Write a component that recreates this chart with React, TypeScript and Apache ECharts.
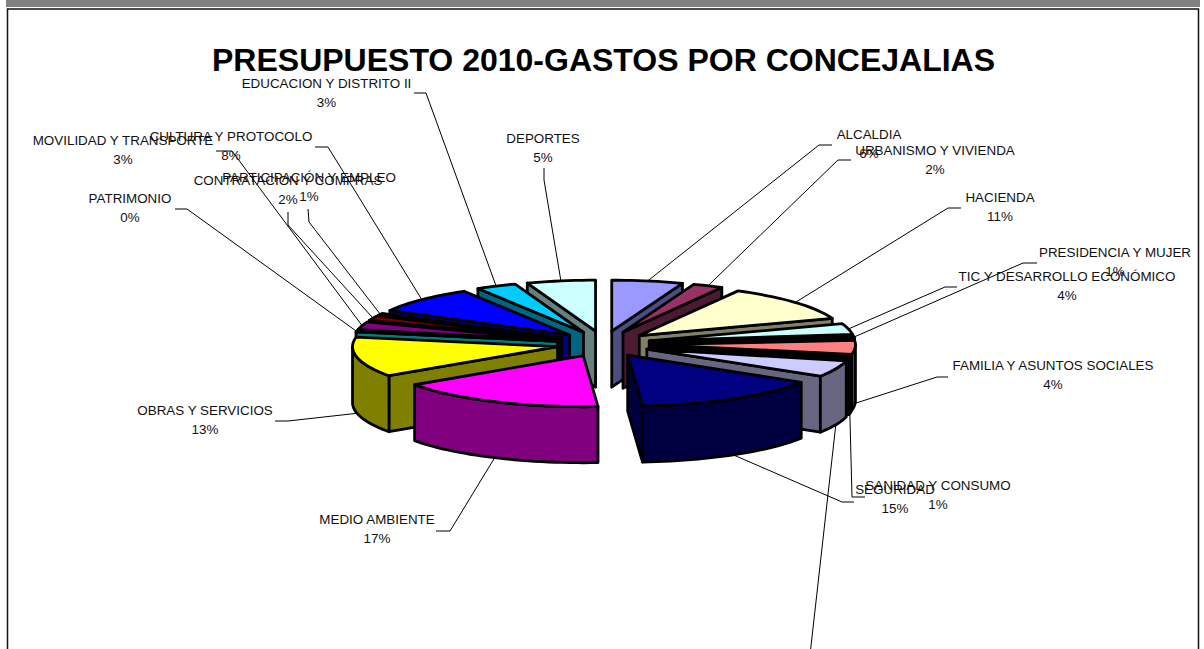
import React, { useEffect, useRef } from "react";
import * as echarts from "echarts";

// ---- data (clockwise from 12 o'clock) ----
const titleText = "PRESUPUESTO 2010-GASTOS POR CONCEJALIAS";
const categories = [
  "ALCALDIA", "URBANISMO Y VIVIENDA", "HACIENDA", "TIC Y DESARROLLO ECONÓMICO", "PRESIDENCIA Y MUJER",
  "FAMILIA Y ASUNTOS SOCIALES", "SANIDAD Y CONSUMO", "", "SEGURIDAD", "MEDIO AMBIENTE", "OBRAS Y SERVICIOS",
  "PATRIMONIO", "MOVILIDAD Y TRANSPORTE", "CONTRATACION Y COMPRAS", "PARTICIPACIÓN Y EMPLEO",
  "CULTURA Y PROTOCOLO", "EDUCACION Y DISTRITO II", "DEPORTES",
];
const values = [5.6, 2.4, 11.5, 3.4, 0.7, 4.4, 0.7, 5.2, 14.9, 16.5, 12.6, 0.4, 2.5, 1.5, 0.6, 8.4, 3.2, 5.4];
const percentLabels = ["6%", "2%", "11%", "4%", "1%", "4%", "1%", "", "15%", "17%", "13%", "0%", "3%", "2%", "1%", "8%", "3%", "5%"];

// ---- styles ----
const topColors = [
  "#9999FF", "#993366", "#FFFFCC", "#CCFFFF", "#660066", "#FF8080", "#0066CC", "#CCCCFF", "#000080",
  "#FF00FF", "#FFFF00", "#00FFFF", "#800080", "#800000", "#008080", "#0000FF", "#00CCFF", "#CCFFFF",
];

// ---- layout ----
const CX = 603.5, CY = 344, RX = 205, RY = 51, DEPTH = 56, EX = 47, EY = 13, EDGE = 2.8;
// label centre x, first-line centre y, then the leader's fixed points (label end first)
const labelLayout: [number, number, number[][]][] = [
  [869, 134, [[832, 145], [819, 145]]],
  [935, 150, [[851, 160], [838, 160]]],
  [1000, 197, [[961, 208], [948, 208]]],
  [1067, 276, [[957, 287], [945, 287]]],
  [1115, 252, [[1037, 263], [1023, 263]]],
  [1053, 365, [[948, 377], [937, 377]]],
  [938, 485, [[865, 497], [852, 497]]],
  [0, 0, [[810, 655]]],
  [895, 489, [[854, 502], [842, 502]]],
  [377, 519, [[436, 531], [450, 531]]],
  [205, 410, [[275, 421], [288, 421]]],
  [130, 198, [[175, 209], [187, 209]]],
  [123, 140, [[216, 151], [232, 151]]],
  [288, 180, [[288, 212], [288, 225]]],
  [309, 177, [[308, 209], [309, 222]]],
  [231, 136, [[315, 147], [328, 147]]],
  [326.5, 83, [[414, 93], [426, 93]]],
  [543, 138, [[544, 168], [544, 180]]],
];

const total = values.reduce((s, v) => s + v, 0);
const rad = (d: number) => (d * Math.PI) / 180;
const geometry = values.map((_, i) => {
  const before = values.slice(0, i).reduce((s, v) => s + v, 0);
  const a = (before / total) * 360;
  const b = ((before + values[i]) / total) * 360;
  const mid = (a + b) / 2;
  return { a, b, mid, cx: CX + EX * Math.sin(rad(mid)), cy: CY - EY * Math.cos(rad(mid)) };
});
const rimPoint = (g: { cx: number; cy: number }, deg: number, drop = 0) => [
  g.cx + RX * Math.sin(rad(deg)),
  g.cy - RY * Math.cos(rad(deg)) + drop,
];
const arc = (g: { cx: number; cy: number }, from: number, to: number, drop = 0) => {
  const n = Math.max(1, Math.ceil(Math.abs(to - from) / 2));
  return Array.from({ length: n + 1 }, (_, k) => rimPoint(g, from + ((to - from) * k) / n, drop));
};
const darken = (hex: string) => {
  const n = parseInt(hex.slice(1), 16);
  const c = [(n >> 16) & 255, (n >> 8) & 255, n & 255].map((v) => Math.round(v / 2));
  return `rgb(${c[0]},${c[1]},${c[2]})`;
};
// back slices are painted first
const paintOrder = values.map((_, i) => i).sort((p, q) => geometry[p].cy - geometry[q].cy);

function renderSlice(_params: any, api: any) {
  const i = api.value(1) as number;
  const g = geometry[i];
  const side = darken(topColors[i]);
  const edge = { stroke: "#000", lineWidth: EDGE, lineJoin: "round" };
  const apex = [g.cx, g.cy];
  const apexLow = [g.cx, g.cy + DEPTH];
  const children: any[] = [];
  const wall = (deg: number) => ({
    type: "polygon",
    shape: { points: [apex, rimPoint(g, deg), rimPoint(g, deg, DEPTH), apexLow] },
    style: { fill: side, ...edge },
  });
  if (Math.sin(rad(g.a)) < 0) children.push(wall(g.a));
  if (Math.sin(rad(g.b)) > 0) children.push(wall(g.b));
  const from = Math.max(g.a, 90);
  const to = Math.min(g.b, 270);
  if (to > from) {
    children.push({
      type: "polygon",
      shape: { points: [...arc(g, from, to), ...arc(g, to, from, DEPTH)] },
      style: { fill: side, ...edge },
    });
  }
  children.push({
    type: "polygon",
    shape: { points: [apex, ...arc(g, g.a, g.b)] },
    style: { fill: topColors[i], ...edge },
  });
  return { type: "group", children };
}

function labelGraphics() {
  const out: any[] = [];
  values.forEach((_, i) => {
    const [x, y, fixed] = labelLayout[i];
    const g = geometry[i];
    const front = g.mid > 90 && g.mid < 270;
    const attach = rimPoint(g, g.mid, front ? DEPTH : 0);
    out.push({
      type: "polyline",
      z: 5,
      shape: { points: [...fixed, attach] },
      style: { stroke: "#000", lineWidth: 1, fill: "none" },
    });
    if (categories[i]) {
      [categories[i], percentLabels[i]].forEach((t, k) =>
        out.push({
          type: "text",
          z: 6,
          x: x,
          y: y + k * 19,
          style: {
            text: t,
            x: 0,
            y: 0,
            align: "center",
            verticalAlign: "middle",
            fill: "#111",
            font: "13.4px 'Liberation Sans', Arial, sans-serif",
          },
        })
      );
    }
  });
  return out;
}

export default function App() {
  const ref = useRef<HTMLDivElement>(null);
  useEffect(() => {
    document.body.style.margin = "0";
    document.body.style.overflow = "hidden";
    const chart = echarts.init(ref.current!, undefined, { renderer: "svg" });
    chart.setOption({
      animation: false,
      backgroundColor: "#fff",
      title: {
        text: titleText,
        left: 598.5,
        top: 39,
        textAlign: "center",
        textStyle: { fontFamily: "'Liberation Sans', Arial, sans-serif", fontWeight: "bold", fontSize: 32, color: "#000" },
      },
      graphic: [
        { type: "rect", z: 1, shape: { x: 6, y: 0, width: 1194, height: 7 }, style: { fill: "#808080" } },
        { type: "rect", z: 1, shape: { x: 7.5, y: 9, width: 1191, height: 700 }, style: { fill: "none", stroke: "#111", lineWidth: 1.5 } },
        ...labelGraphics(),
      ],
      series: [
        {
          type: "custom",
          coordinateSystem: "none",
          silent: true,
          renderItem: renderSlice,
          data: paintOrder.map((i) => ({ name: categories[i], value: [values[i], i] })),
        },
      ],
    });
    return () => chart.dispose();
  }, []);
  return <div ref={ref} style={{ width: 1204, height: 649 }} />;
}
